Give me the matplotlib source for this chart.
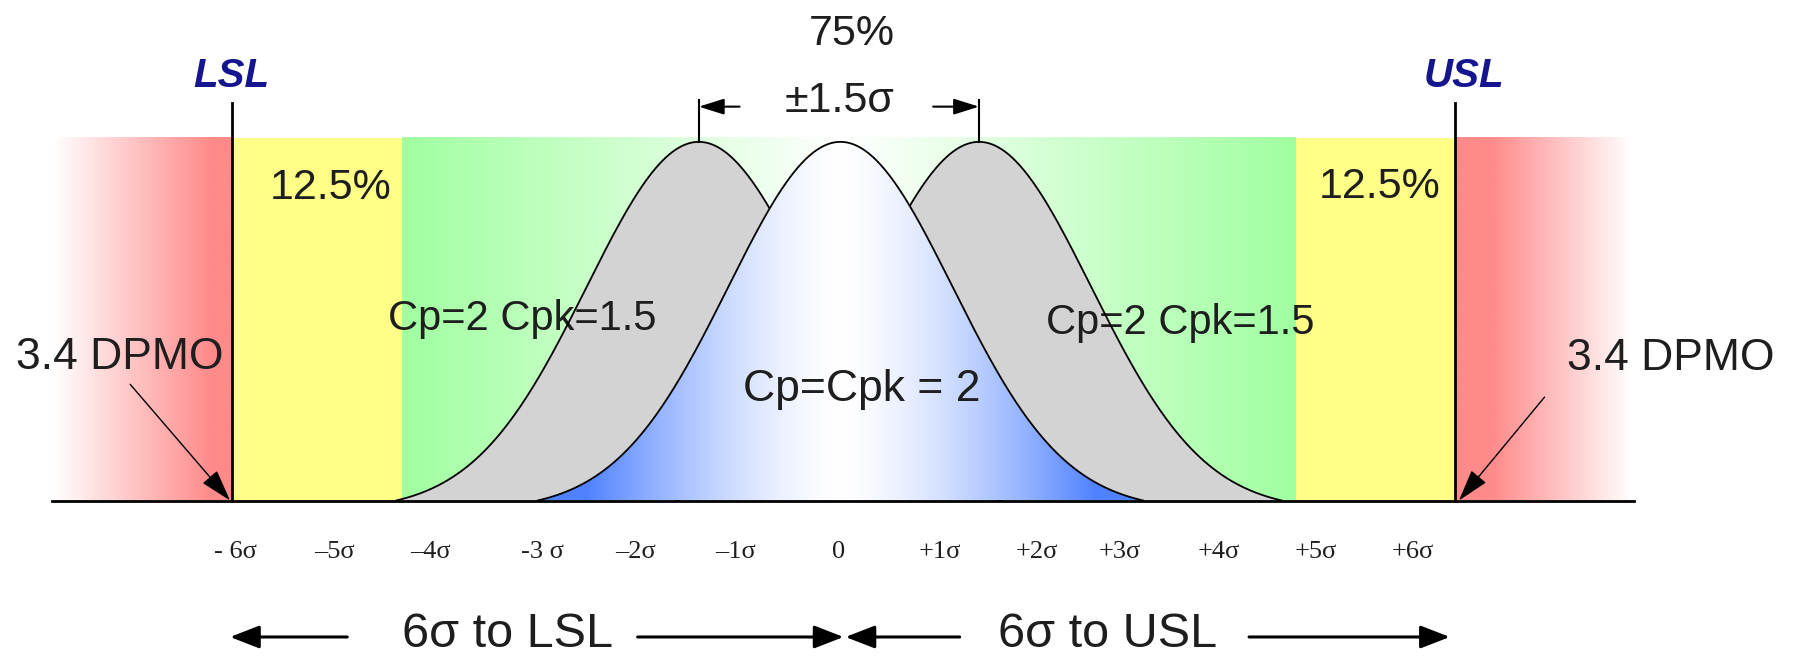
import numpy as np
import matplotlib
matplotlib.use("Agg")
import matplotlib.pyplot as plt
from matplotlib.patches import Polygon, ArrowStyle

# --- values (x in sigma units, y = height of the curve peak ~1) ---
spec_names = ["LSL", "USL"]
spec_limits = [-6.0, 6.0]
zone_edges = [-7.75, -6.0, -4.33, 4.44, 6.0, 7.73]          # red | yellow | green | yellow | red
zone_pct = ["12.5%", "12.5%"]
curve_means = [-1.42, -0.03, 1.33]                          # shifted, centred, shifted
curve_sigma = 1.1
curve_halfwidth = 2.97
curve_peak = 0.988
tick_pos = [-5.97, -5.0, -4.05, -2.95, -2.04, -1.06, -0.05, 0.95, 1.90, 2.71, 3.68, 4.63, 5.59]
tick_labels = ["- 6σ", "–5σ", "–4σ", "-3 σ", "–2σ", "–1σ", "0",
               "+1σ", "+2σ", "+3σ", "+4σ", "+5σ", "+6σ"]

RED = np.array([255, 138, 138]) / 255
YELLOW = "#FFFF88"
GREEN = np.array([160, 255, 160]) / 255
BLUE = np.array([80, 130, 255]) / 255
WHITE = np.ones(3)
NAVY = "#15158F"
TXT = "#1e1e1e"

plt.rcParams["font.family"] = ["Liberation Sans", "DejaVu Sans"]

fig = plt.figure(figsize=(17.98, 6.59), dpi=100)
ax = fig.add_axes([0, 0, 1, 1])
ax.set_xlim(-843.5 / 101.9, (1798 - 843.5) / 101.9)
ax.set_ylim(-158.5 / 363, 500.5 / 363)
ax.axis("off")


def hgrad(x0, x1, weight_fn, col, zorder, y0=0, y1=1.0, n=400):
    xs = np.linspace(x0, x1, n)
    t = np.clip(weight_fn(xs), 0, 1)[:, None]
    rgb = WHITE * (1 - t) + col * t
    img = np.repeat(rgb[None, :, :], 2, axis=0)
    return ax.imshow(img, extent=[x0, x1, y0, y1], aspect="auto",
                     interpolation="bilinear", zorder=zorder)


# background zones
hgrad(zone_edges[0], zone_edges[1], lambda x: (x - zone_edges[0]) / 1.55, RED, 0)
ax.fill_between([zone_edges[1], zone_edges[2]], 0, 1, color=YELLOW, lw=0, zorder=0)
hgrad(zone_edges[2], zone_edges[3], lambda x: np.abs(x) / np.where(x < 0, -zone_edges[2], zone_edges[3]),
      GREEN, 0)
ax.fill_between([zone_edges[3], zone_edges[4]], 0, 1, color=YELLOW, lw=0, zorder=0)
hgrad(zone_edges[4], zone_edges[5], lambda x: (zone_edges[5] - x) / 1.38, RED, 0)


def bell(mu):
    x = np.linspace(mu - curve_halfwidth, mu + curve_halfwidth, 400)
    floor = np.exp(-curve_halfwidth ** 2 / (2 * curve_sigma ** 2))
    y = (np.exp(-(x - mu) ** 2 / (2 * curve_sigma ** 2)) - floor) / (1 - floor)
    return x, y * curve_peak


# shifted processes (grey)
for mu in (curve_means[0], curve_means[2]):
    x, y = bell(mu)
    ax.add_patch(Polygon(np.column_stack([x, y]), closed=True, facecolor="#D3D3D3",
                         edgecolor="none", zorder=2))
    ax.plot(x, y, color="black", lw=1.3, zorder=2.2)

# centred process with blue-to-white gradient
x, y = bell(curve_means[1])
poly = Polygon(np.column_stack([x, y]), closed=True, facecolor="none", edgecolor="none", zorder=3)
ax.add_patch(poly)
mu = curve_means[1]
im = hgrad(x[0], x[-1], lambda v: (np.abs(v - mu) / 2.5) ** 1.5, BLUE, 3, y1=1.0)
im.set_clip_path(poly)
ax.plot(x, y, color="black", lw=1.3, zorder=3.2)

# spec limit lines and baseline
for name, lim, dx in zip(spec_names, spec_limits, [-0.01, 0.09]):
    ax.plot([lim, lim], [0, 1.095], color="black", lw=2, zorder=4)
    ax.text(lim + dx, 1.17, name, color=NAVY, fontsize=29, fontweight="bold",
            fontstyle="italic", ha="center", va="center", zorder=5)
ax.plot([-7.77, 7.76], [0, 0], color="black", lw=2, zorder=4)

# zone labels
ax.text(-5.03, 0.862, zone_pct[0], fontsize=31, color=TXT, ha="center", va="center", zorder=5)
ax.text(5.26, 0.865, zone_pct[1], fontsize=31, color=TXT, ha="center", va="center", zorder=5)
ax.text(-3.15, 0.500, "Cp=2 Cpk=1.5", fontsize=30, color=TXT, ha="center", va="center", zorder=2.1)
ax.text(3.30, 0.488, "Cp=2 Cpk=1.5", fontsize=30, color=TXT, ha="center", va="center", zorder=2.1)
ax.text(0.18, 0.305, "Cp=Cpk = 2", fontsize=32, color=TXT, ha="center", va="center", zorder=5)

# shift marker at the top
ax.text(0.08, 1.285, "75%", fontsize=31, color=TXT, ha="center", va="center")
ax.text(-0.04, 1.10, "±1.5σ", fontsize=31, color=TXT, ha="center", va="center")
small_head = ArrowStyle("-|>", head_length=0.7, head_width=0.22)
for mu, tail in [(curve_means[0], -1.02), (curve_means[2], 0.88)]:
    ax.plot([mu, mu], [curve_peak, 1.103], color="black", lw=1.5, zorder=4)
    ax.annotate("", xy=(mu, 1.085), xytext=(tail, 1.085),
                arrowprops=dict(arrowstyle=small_head, mutation_scale=22, lw=1.5,
                                color="black", shrinkA=0, shrinkB=0))

# DPMO callouts
dpmo_head = ArrowStyle("-|>", head_length=1.0, head_width=0.3)
ax.text(-7.10, 0.395, "3.4 DPMO", fontsize=32, color=TXT, ha="center", va="center")
ax.text(8.12, 0.390, "3.4 DPMO", fontsize=32, color=TXT, ha="center", va="center")
for tail, tip in [((-7.0, 0.32), (-6.02, 0.0)), ((6.88, 0.285), (6.04, 0.0))]:
    ax.annotate("", xy=tip, xytext=tail, zorder=6,
                arrowprops=dict(arrowstyle=dpmo_head, mutation_scale=20, lw=1,
                                color="black", shrinkA=0, shrinkB=0))

# sigma scale labels
for p, lab in zip(tick_pos, tick_labels):
    ax.text(p, -0.142, lab, fontsize=19, family=["Liberation Serif", "DejaVu Serif"],
            color=TXT, ha="center", va="center")

# bottom distance arrows
big_head = ArrowStyle("-|>", head_length=0.9, head_width=0.35)
for tail, tip in [(-4.87, -6.02), (-2.02, 0.0), (1.14, 0.02), (3.98, 5.95)]:
    ax.annotate("", xy=(tip, -0.376), xytext=(tail, -0.376),
                arrowprops=dict(arrowstyle=big_head, mutation_scale=20, lw=2.2,
                                color="black", shrinkA=0, shrinkB=0))
ax.text(-3.30, -0.368, "6σ to LSL", fontsize=35, color=TXT, ha="center", va="center")
ax.text(2.59, -0.368, "6σ to USL", fontsize=35, color=TXT, ha="center", va="center")

fig.savefig("out.png", dpi=100)
